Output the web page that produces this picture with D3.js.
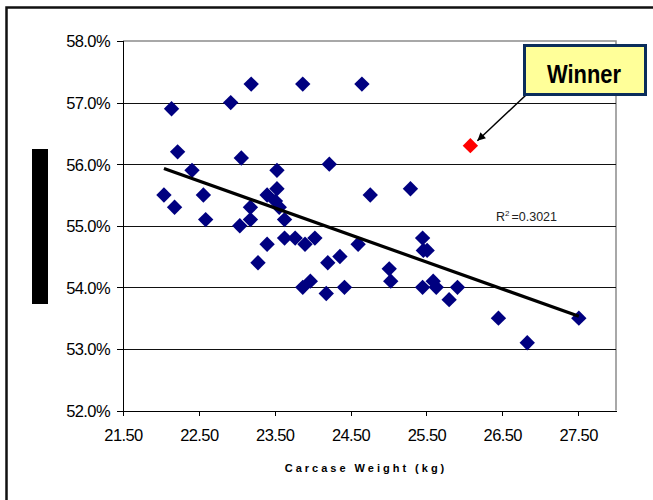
<!DOCTYPE html>
<meta charset="utf-8">
<style>
body { margin: 0; background: #fff; }
text { font-family: "Liberation Sans", Arial, sans-serif; }
.axis path, .axis line { stroke: #000; shape-rendering: crispEdges; }
.axis text { font-size: 16.5px; fill: #000; letter-spacing: -0.6px; }
.grid line { stroke: #111; shape-rendering: crispEdges; }
</style>
<svg width="653" height="500"></svg>
<script src="https://d3js.org/d3.v7.min.js"></script>
<script>

// carcase weight (kg) and yield
var weight = [22.04, 22.14, 22.18, 22.22, 22.41, 22.56, 22.59, 22.92, 23.06, 23.04,
              23.18, 23.18, 23.19, 23.28, 23.40, 23.40, 23.53, 23.53, 23.51, 23.56,
              23.63, 23.63, 23.77, 23.90, 23.87, 23.87, 23.97, 24.03, 24.18, 24.20,
              24.22, 24.36, 24.42, 24.60, 24.65, 24.76, 25.01, 25.03, 25.29, 25.45,
              25.46, 25.51, 25.45, 25.59, 25.63, 25.80, 25.91, 26.45, 26.83, 27.51];
var yieldPct = [55.5, 56.9, 55.3, 56.2, 55.9, 55.5, 55.1, 57.0, 56.1, 55.0,
                55.1, 55.3, 57.3, 54.4, 54.7, 55.5, 55.9, 55.6, 55.4, 55.3,
                55.1, 54.8, 54.8, 54.7, 57.3, 54.0, 54.1, 54.8, 53.9, 54.4,
                56.0, 54.5, 54.0, 54.7, 57.3, 55.5, 54.3, 54.1, 55.6, 54.8,
                54.6, 54.6, 54.0, 54.1, 54.0, 53.8, 54.0, 53.5, 53.1, 53.5];

var winner = {weight: 26.08, yieldPct: 56.3};

var trendX = [22.04, 27.51];
var trendY = [55.93, 53.53];
var rSquared = "0.3021";

var xTicks = [21.5, 22.5, 23.5, 24.5, 25.5, 26.5, 27.5];
var yTicks = [52, 53, 54, 55, 56, 57, 58];

var svg = d3.select("svg");

var x = d3.scaleLinear().domain([21.5, 28]).range([123, 616]);
var y = d3.scaleLinear().domain([52, 58]).range([410.5, 41]);

// outer frame
svg.append("path")
    .attr("d", "M6.5,500 V7.5 H653")
    .attr("fill", "none")
    .attr("stroke", "#111")
    .attr("stroke-width", 2.5);

// black bar where the y title was
svg.append("rect")
    .attr("x", 32).attr("y", 149)
    .attr("width", 16).attr("height", 155)
    .attr("fill", "#000");

// plot frame (top and right in grey)
svg.append("path")
    .attr("d", "M" + x(21.5) + "," + y(58) + "H" + x(28) + "V" + y(52))
    .attr("fill", "none")
    .attr("stroke", "#8c8c8c")
    .attr("stroke-width", 1.5);

svg.append("g")
    .attr("class", "grid")
  .selectAll("line")
  .data(yTicks.slice(1, -1))
  .enter().append("line")
    .attr("x1", x(21.5))
    .attr("x2", x(28))
    .attr("y1", function(d) { return Math.round(y(d)) + 0.5; })
    .attr("y2", function(d) { return Math.round(y(d)) + 0.5; });

svg.append("g")
    .attr("class", "axis")
    .attr("transform", "translate(" + x(21.5) + ",0)")
    .call(d3.axisLeft(y)
        .tickValues(yTicks)
        .tickSize(6)
        .tickPadding(7)
        .tickFormat(function(d) { return d.toFixed(1) + "%"; }))
    .call(function(g) { g.selectAll("text").attr("dy", "0.36em"); });

svg.append("g")
    .attr("class", "axis")
    .attr("transform", "translate(0," + y(52) + ")")
    .call(d3.axisBottom(x)
        .tickValues(xTicks)
        .tickSize(5)
        .tickSizeOuter(0)
        .tickPadding(14)
        .tickFormat(d3.format(".2f")));

svg.selectAll(".axis .domain").attr("stroke", "#222");

svg.append("text")
    .attr("x", 366)
    .attr("y", 472)
    .attr("text-anchor", "middle")
    .style("font-size", "11px")
    .style("font-weight", "bold")
    .style("letter-spacing", "3px")
    .text("Carcase Weight (kg)");

// points
var diamond = d3.symbol().type(d3.symbolSquare).size(118);

svg.append("g")
  .selectAll("path")
  .data(weight.map(function(w, i) { return {weight: w, yieldPct: yieldPct[i]}; }))
  .enter().append("path")
    .attr("d", diamond)
    .attr("fill", "#000080")
    .attr("transform", function(d) {
      return "translate(" + x(d.weight) + "," + y(d.yieldPct) + ") rotate(45)";
    });

// trend line
svg.append("line")
    .attr("x1", x(trendX[0])).attr("y1", y(trendY[0]))
    .attr("x2", x(trendX[1])).attr("y2", y(trendY[1]))
    .attr("stroke", "#000")
    .attr("stroke-width", 3.2);

var r2 = svg.append("text")
    .attr("x", 496)
    .attr("y", 221)
    .style("font-size", "12.5px")
    .attr("fill", "#222");
r2.append("tspan").text("R");
r2.append("tspan").attr("dy", -5).style("font-size", "8px").text("2");
r2.append("tspan").attr("dy", 5).attr("dx", 2).text("=" + rSquared);

svg.append("path")
    .attr("d", diamond)
    .attr("fill", "#ff0000")
    .attr("transform", "translate(" + x(winner.weight) + "," + y(winner.yieldPct) + ") rotate(45)");

// callout
svg.append("defs").append("marker")
    .attr("id", "head")
    .attr("viewBox", "0 0 10 10")
    .attr("refX", 10).attr("refY", 5)
    .attr("markerWidth", 9).attr("markerHeight", 8)
    .attr("markerUnits", "userSpaceOnUse")
    .attr("orient", "auto")
  .append("path")
    .attr("d", "M0,0 L10,5 L0,10 Z")
    .attr("fill", "#000");

svg.append("line")
    .attr("x1", 526).attr("y1", 95)
    .attr("x2", x(winner.weight) + 7).attr("y2", y(winner.yieldPct) - 5)
    .attr("stroke", "#000")
    .attr("stroke-width", 1.5)
    .attr("marker-end", "url(#head)");

svg.append("rect")
    .attr("x", 524.5).attr("y", 45.5)
    .attr("width", 121).attr("height", 49)
    .attr("fill", "#ffff99")
    .attr("stroke", "#0b2d5b")
    .attr("stroke-width", 3);

svg.append("text")
    .attr("x", 547)
    .attr("y", 83)
    .attr("textLength", 74)
    .attr("lengthAdjust", "spacingAndGlyphs")
    .style("font-weight", "bold")
    .style("font-size", "26px")
    .text("Winner");

</script>
